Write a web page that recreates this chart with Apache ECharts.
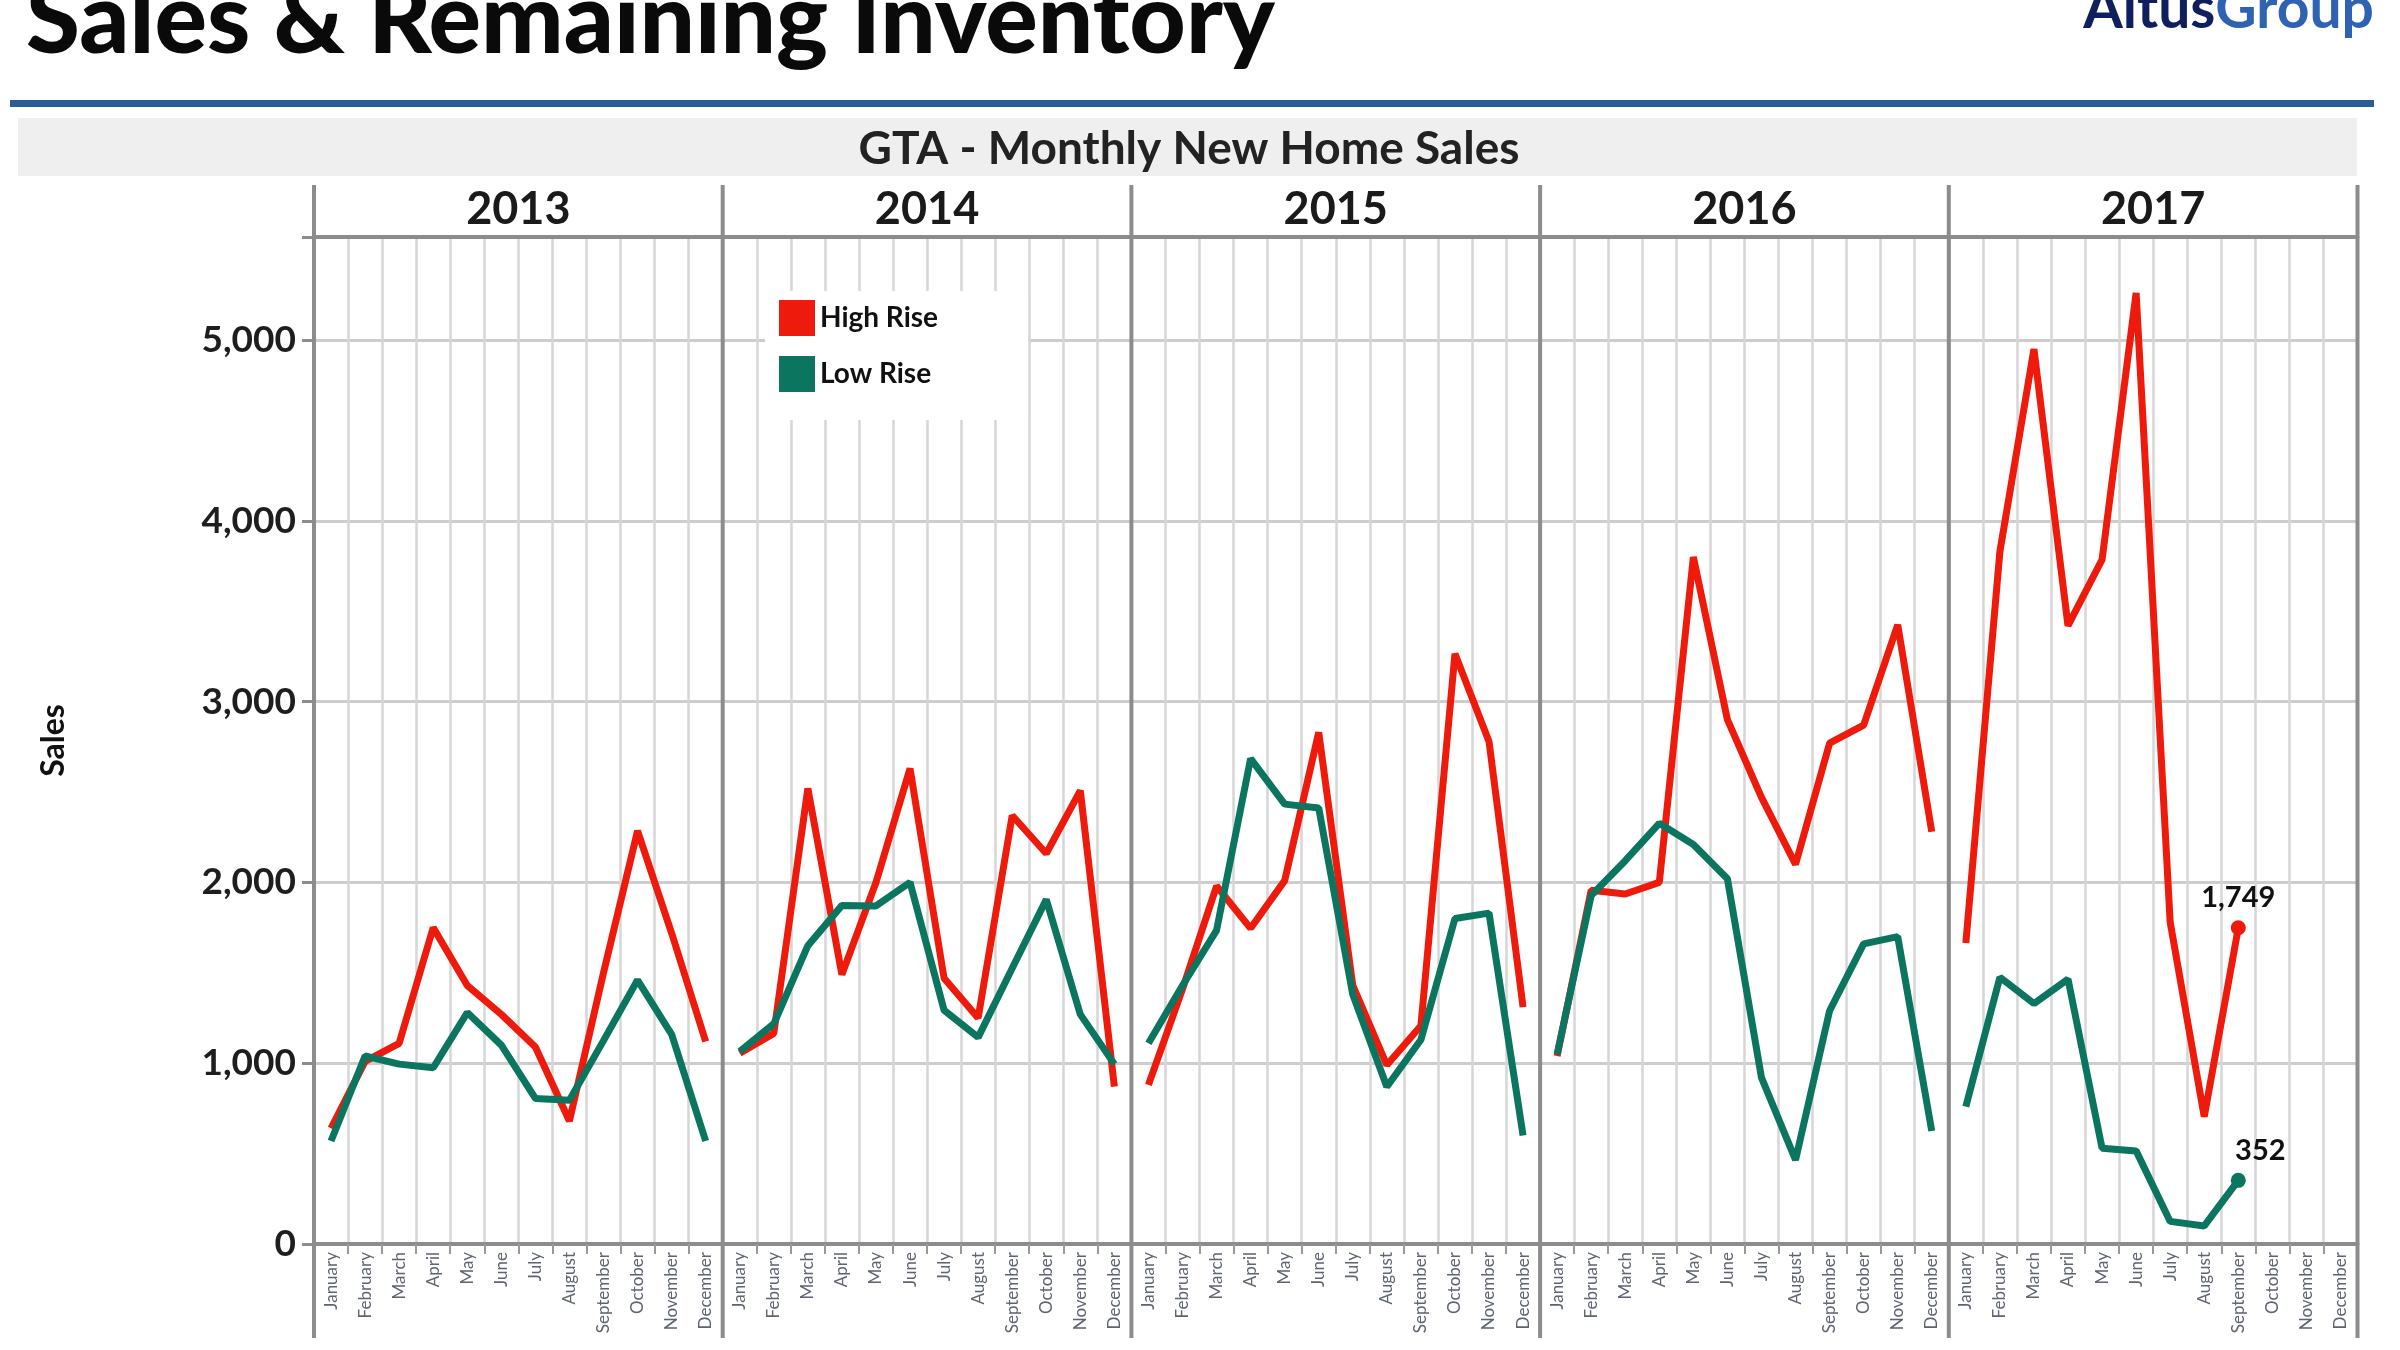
<!DOCTYPE html>
<html><head><meta charset="utf-8">
<script src="https://cdn.jsdelivr.net/npm/echarts@6/dist/echarts.min.js"></script>
<style>html,body{margin:0;padding:0;background:#fff}#c{width:2400px;height:1350px}</style>
</head><body><div id="c"></div>
<script>
// ---- data ----
const years = ['2013', '2014', '2015', '2016', '2017'];
const months = ['January', 'February', 'March', 'April', 'May', 'June', 'July', 'August', 'September', 'October', 'November', 'December'];
const yTicks = [0, 1000, 2000, 3000, 4000, 5000];

const highRise2013 = [640, 1010, 1110, 1750, 1430, 1270, 1090, 680, 1500, 2285, 1720, 1120];
const lowRise2013  = [570, 1040, 995, 975, 1280, 1100, 805, 795, 1125, 1460, 1160, 570];
const highRise2014 = [1055, 1165, 2520, 1490, 2000, 2630, 1470, 1250, 2370, 2160, 2508, 870];
const lowRise2014  = [1065, 1218, 1650, 1873, 1870, 2000, 1293, 1143, 1525, 1905, 1270, 995];
const highRise2015 = [880, 1410, 1980, 1746, 2010, 2830, 1430, 990, 1207, 3265, 2780, 1310];
const lowRise2015  = [1110, 1430, 1735, 2685, 2433, 2412, 1380, 870, 1130, 1800, 1830, 600];
const highRise2016 = [1040, 1957, 1936, 2000, 3800, 2900, 2470, 2100, 2770, 2870, 3425, 2280];
const lowRise2016  = [1050, 1928, 2120, 2327, 2210, 2020, 920, 465, 1290, 1660, 1700, 625];
const highRise2017 = [1665, 3830, 4950, 3420, 3785, 5260, 1780, 705, 1749];
const lowRise2017  = [760, 1475, 1330, 1465, 530, 515, 125, 100, 352];

const highRise = [highRise2013, highRise2014, highRise2015, highRise2016, highRise2017];
const lowRise = [lowRise2013, lowRise2014, lowRise2015, lowRise2016, lowRise2017];

// ---- layout ----
const GRID_LEFT = 314, YEAR_W = 408.7, GRID_TOP = 237, GRID_H = 1007;
const Y_MAX = 5570;
const RED = '#ee1a0c', GREEN = '#0b7560';
const FONT = 'Lato';

function makeSeries(name, vals, color, i, labelOffset) {
  const isLast = i === years.length - 1;
  return {
    name, type: 'line', xAxisIndex: 2 * i, yAxisIndex: i,
    symbol: 'none', showSymbol: true, animation: false, z: 3,
    lineStyle: { color, width: 7 }, itemStyle: { color },
    data: vals.map((v, j) => (isLast && j === vals.length - 1) ? {
      value: v, symbol: 'circle', symbolSize: 15,
      label: { show: true, position: 'top', distance: 8, offset: labelOffset,
        formatter: p => Number(p.value).toLocaleString('en-US'),
        fontFamily: FONT, fontSize: 29, fontWeight: 'bold', color: '#111' }
    } : v)
  };
}

const chart = echarts.init(document.getElementById('c'), null, { renderer: 'canvas' });

const graphics = [
  { type: 'text', x: 26, y: 21, style: { text: 'Sales & Remaining Inventory', font: '900 98px Lato', fill: '#0a0a0a', verticalAlign: 'middle', textVerticalAlign: 'middle' } },
  { type: 'text', x: 2374, y: 10, style: { text: '{a|Altus}{b|Group}', align: 'right', textAlign: 'right', verticalAlign: 'middle', textVerticalAlign: 'middle',
      rich: { a: { font: 'bold 57px Lato', fill: '#0f1f5e', color: '#0f1f5e' }, b: { font: 'bold 57px Lato', fill: '#2f62b3', color: '#2f62b3' } } } },
  { type: 'rect', shape: { x: 10, y: 100, width: 2364, height: 7 }, style: { fill: '#2b5d97' } },
  { type: 'rect', shape: { x: 18, y: 118, width: 2339, height: 58 }, style: { fill: '#efefef' } },
  { type: 'text', x: 1189, y: 149, style: { text: 'GTA - Monthly New Home Sales', font: 'bold 46px Lato', fill: '#222', align: 'center', textAlign: 'center', verticalAlign: 'middle', textVerticalAlign: 'middle' } }
];
for (let k = 0; k <= years.length; k++) {
  const x = GRID_LEFT + YEAR_W * k;
  graphics.push({ type: 'line', z: 1, shape: { x1: x, y1: 185, x2: x, y2: 1338 }, style: { stroke: '#8c8c8c', lineWidth: 4 } });
}

const option = {
  backgroundColor: '#fff',
  animation: false,
  textStyle: { fontFamily: FONT },
  graphic: graphics,
  legend: {
    data: ['High Rise', 'Low Rise'], orient: 'vertical', left: 765, top: 291,
    backgroundColor: '#fff', padding: [9, 90, 28, 14],
    itemWidth: 36, itemHeight: 36, itemGap: 20, icon: 'rect', z: 10,
    textStyle: { fontFamily: FONT, fontSize: 28, fontWeight: 'bold', color: '#111' }
  },
  grid: years.map((y, i) => ({ left: GRID_LEFT + YEAR_W * i, top: GRID_TOP, width: YEAR_W, height: GRID_H, containLabel: false })),
  xAxis: years.flatMap((y, i) => [
    {
      type: 'category', gridIndex: i, data: months, boundaryGap: true, position: 'bottom',
      axisLine: { show: true, lineStyle: { color: '#8c8c8c', width: 4 } },
      axisTick: { show: true, interval: 0, length: 10, lineStyle: { color: '#9a9a9a', width: 2 } },
      axisLabel: { interval: 0, rotate: 90, fontSize: 17, color: '#5e6470', margin: 8, fontFamily: FONT },
      splitLine: { show: true, interval: 0, lineStyle: { color: '#d6d6d6', width: 2.5 } }
    },
    {
      type: 'category', gridIndex: i, data: [y], position: 'top', boundaryGap: true,
      axisLine: { show: true, lineStyle: { color: '#8c8c8c', width: 4 } },
      axisTick: { show: false },
      axisLabel: { fontSize: 45, fontWeight: 'bold', color: '#1a1a1a', margin: 5, fontFamily: FONT },
      splitLine: { show: false }
    }
  ]),
  yAxis: years.map((y, i) => ({
    type: 'value', gridIndex: i, min: 0, max: Y_MAX, interval: 1000,
    axisLine: { show: i === 0, lineStyle: { color: '#8c8c8c', width: 4 } },
    axisTick: { show: i === 0, length: 12, lineStyle: { color: '#8c8c8c', width: 3 } },
    axisLabel: { show: i === 0, fontSize: 37, fontWeight: 'bold', color: '#1e1e1e', margin: 18, fontFamily: FONT,
      formatter: v => yTicks.includes(v) ? v.toLocaleString('en-US') : '' },
    splitLine: { show: true, lineStyle: { color: '#cdcdcd', width: 3 } },
    name: i === 0 ? 'Sales' : '', nameLocation: 'middle', nameGap: 244, nameRotate: 90,
    nameTextStyle: { fontSize: 32, fontWeight: 'bold', color: '#111', fontFamily: FONT }
  })),
  series: years.flatMap((y, i) => [
    makeSeries('High Rise', highRise[i], RED, i, [0, 0]),
    makeSeries('Low Rise', lowRise[i], GREEN, i, [22, 0])
  ])
};
chart.setOption(option);
</script>
</body></html>
